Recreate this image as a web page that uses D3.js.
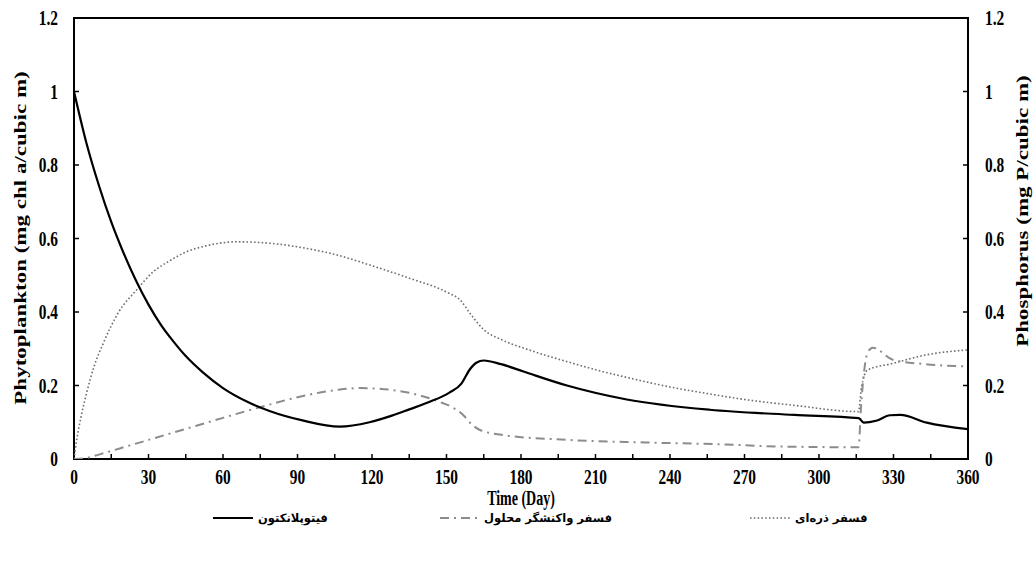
<!DOCTYPE html>
<html>
<head>
<meta charset="utf-8">
<script src="https://cdn.jsdelivr.net/npm/d3@7"></script>
<style>
  html, body { margin: 0; padding: 0; background: #fff; }
  svg { display: block; }
  text { font-family: "Liberation Serif", "Times New Roman", serif; font-weight: bold; fill: #000; }
  .legend text { font-family: "DejaVu Sans", "Noto Sans", sans-serif; font-weight: bold; font-size: 11.5px; }
</style>
</head>
<body>
<svg id="chart" width="1035" height="562"></svg>
<script>
// ---------- data ----------
const xTicks = [0, 30, 60, 90, 120, 150, 180, 210, 240, 270, 300, 330, 360];
const yTicks = [0, 0.2, 0.4, 0.6, 0.8, 1, 1.2];
const yTickLabels = ["0", "0.2", "0.4", "0.6", "0.8", "1", "1.2"];

const phytoDays = [0, 5, 10, 15, 20, 25, 30, 35, 40, 45, 52, 60, 70, 79, 92, 107, 119, 128, 135, 143, 151, 156, 159.5, 162, 165, 172, 181, 198.5, 222.6, 256, 290, 316, 318, 323, 328.6, 332.7, 343.4, 360];
const phytoVals = [1.0, 0.86, 0.745, 0.645, 0.56, 0.485, 0.42, 0.365, 0.32, 0.28, 0.235, 0.193, 0.155, 0.13, 0.105, 0.088, 0.10, 0.118, 0.135, 0.155, 0.18, 0.205, 0.245, 0.262, 0.268, 0.258, 0.238, 0.2, 0.162, 0.134, 0.12, 0.111, 0.099, 0.104, 0.119, 0.12, 0.099, 0.081];

const drpDays = [0, 5, 10, 15, 22.5, 30, 40, 50, 60, 75, 90, 106, 115, 125, 135, 147, 152, 156.7, 160, 163.5, 173, 198.5, 230, 260, 284, 315.9, 317, 319.5, 321.6, 329.7, 343, 360];
const drpVals = [0, 0.003, 0.012, 0.022, 0.037, 0.052, 0.072, 0.092, 0.112, 0.141, 0.168, 0.188, 0.193, 0.19, 0.18, 0.156, 0.142, 0.12, 0.095, 0.079, 0.065, 0.052, 0.045, 0.04, 0.034, 0.032, 0.15, 0.288, 0.303, 0.27, 0.258, 0.252];

const ppDays = [0, 1.1, 3, 5.1, 8, 11.8, 18, 25.2, 32, 38.7, 45, 52, 65.5, 79, 92, 106, 119, 135, 151, 155.5, 159.5, 165, 172, 181, 190, 198.5, 210, 222.6, 240, 256, 270, 290, 315.9, 317, 319.5, 329.7, 343, 360];
const ppVals = [0, 0.052, 0.12, 0.18, 0.25, 0.315, 0.4, 0.46, 0.51, 0.54, 0.563, 0.578, 0.591, 0.587, 0.575, 0.555, 0.528, 0.492, 0.451, 0.433, 0.396, 0.352, 0.325, 0.302, 0.282, 0.265, 0.243, 0.222, 0.196, 0.177, 0.162, 0.146, 0.129, 0.19, 0.242, 0.26, 0.283, 0.297];

const seriesNames = ["فیتوپلانکتون", "فسفر واکنشگر محلول", "فسفر ذره‌ای"];

// ---------- layout ----------
const svg = d3.select("#chart");
const L = 74, R = 968, T = 18, B = 459;
const FS = 22, SQ = 0.7; // font size and horizontal squeeze of the picture

const x = d3.scaleLinear().domain([0, 360]).range([L, R]);
const yL = d3.scaleLinear().domain([0, 1.2]).range([B, T]);
const yR = d3.scaleLinear().domain([0, 1.2]).range([B, T]);

// frame
svg.append("rect").attr("x", L).attr("y", T).attr("width", R - L).attr("height", B - T)
  .attr("fill", "none").attr("stroke", "#000").attr("stroke-width", 2);

// x axis ticks (inside)
const xMinor = d3.range(0, 361, 15);
svg.append("g").selectAll("line").data(xMinor).join("line")
  .attr("x1", d => x(d)).attr("x2", d => x(d))
  .attr("y1", B).attr("y2", B - 5)
  .attr("stroke", "#000").attr("stroke-width", 1.5);
svg.append("g").selectAll("text").data(xTicks).join("text")
  .attr("transform", d => `translate(${x(d)},484) scale(${SQ},1)`)
  .attr("text-anchor", "middle").attr("font-size", FS)
  .text(d => d);

// left y axis
svg.append("g").selectAll("line").data(yTicks).join("line")
  .attr("x1", L).attr("x2", L + 5)
  .attr("y1", d => yL(d)).attr("y2", d => yL(d))
  .attr("stroke", "#000").attr("stroke-width", 1.5);
svg.append("g").selectAll("text").data(yTicks).join("text")
  .attr("transform", d => `translate(58,${yL(d) + 7}) scale(${SQ},1)`)
  .attr("text-anchor", "end").attr("font-size", FS)
  .text((d, i) => yTickLabels[i]);

// right y axis
svg.append("g").selectAll("line").data(yTicks).join("line")
  .attr("x1", R).attr("x2", R - 5)
  .attr("y1", d => yR(d)).attr("y2", d => yR(d))
  .attr("stroke", "#000").attr("stroke-width", 1.5);
svg.append("g").selectAll("text").data(yTicks).join("text")
  .attr("transform", d => `translate(985,${yR(d) + 7}) scale(${SQ},1)`)
  .attr("text-anchor", "start").attr("font-size", FS)
  .text((d, i) => yTickLabels[i]);

// axis titles
svg.append("text").attr("transform", `translate(26,238) rotate(-90) scale(1,${SQ})`)
  .attr("text-anchor", "middle").attr("font-size", 23)
  .text("Phytoplankton (mg chl a/cubic m)");
svg.append("text").attr("transform", `translate(1028,211) rotate(-90) scale(1,${SQ})`)
  .attr("text-anchor", "middle").attr("font-size", 23)
  .text("Phosphorus (mg P/cubic m)");
svg.append("text").attr("transform", `translate(521,505) scale(${SQ},1)`)
  .attr("text-anchor", "middle").attr("font-size", 20)
  .text("Time (Day)");

// ---------- lines ----------
svg.append("clipPath").attr("id", "plotclip").append("rect")
  .attr("x", L).attr("y", T).attr("width", R - L).attr("height", B - T);

function mk(days, vals, yScale) {
  return d3.line().x((d, i) => x(days[i])).y((d, i) => yScale(vals[i])).curve(d3.curveMonotoneX)(vals);
}
const g = svg.append("g").attr("clip-path", "url(#plotclip)");

g.append("path").attr("d", mk(ppDays, ppVals, yR))
  .attr("fill", "none").attr("stroke", "#6e6e6e").attr("stroke-width", 1.6)
  .attr("stroke-dasharray", "1.6,2.2");
g.append("path").attr("d", mk(drpDays, drpVals, yR))
  .attr("fill", "none").attr("stroke", "#8c8c8c").attr("stroke-width", 2)
  .attr("stroke-dasharray", "9,5,2,5");
g.append("path").attr("d", mk(phytoDays, phytoVals, yL))
  .attr("fill", "none").attr("stroke", "#000").attr("stroke-width", 2.2);

// ---------- legend ----------
const leg = svg.append("g").attr("class", "legend");
const legendItems = [
  { name: seriesNames[0], sx: 213, tx: 258, stroke: "#000", w: 2.2, dash: null },
  { name: seriesNames[1], sx: 440, tx: 484, stroke: "#8c8c8c", w: 2, dash: "9,5,2,5" },
  { name: seriesNames[2], sx: 750, tx: 795, stroke: "#6e6e6e", w: 1.6, dash: "1.6,2.2" }
];
legendItems.forEach(it => {
  const ln = leg.append("line").attr("x1", it.sx).attr("x2", it.sx + 40)
    .attr("y1", 518).attr("y2", 518)
    .attr("stroke", it.stroke).attr("stroke-width", it.w);
  if (it.dash) ln.attr("stroke-dasharray", it.dash);
  leg.append("text").attr("x", it.tx).attr("y", 522).attr("text-anchor", "start")
    .text(it.name);
});
</script>
</body>
</html>
